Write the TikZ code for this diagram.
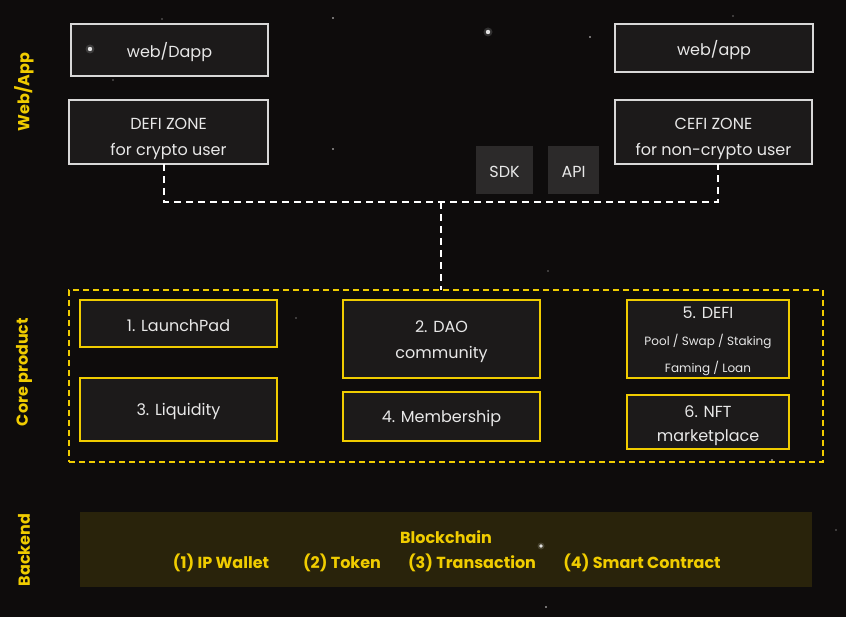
\documentclass[tikz,border=0pt]{standalone}
\usepackage{fontspec}
\setmainfont{Poppins}
\begin{document}
\begin{tikzpicture}[x=1pt,y=-1pt,
  every node/.style={inner sep=0pt,outer sep=0pt},
  whitebox/.style={draw=boxwhite,line width=1.3pt,fill=boxfill},
  yellowbox/.style={draw=ylw,line width=1.1pt,fill=boxfill},
  graybox/.style={fill=boxgray},
  txt/.style={text=txtwhite,font=\fontsize{16}{18}\selectfont,yshift=-2pt},
  smalltxt/.style={text=txtwhite,font=\fontsize{12}{14}\selectfont,yshift=-1pt},
  ytxt/.style={text=ylw,font=\bfseries\fontsize{16}{18}\selectfont},
  sidelbl/.style={text=ylw,font=\bfseries\fontsize{16}{18}\selectfont,rotate=90},
  dashline/.style={draw=white,line width=1.4pt,dash pattern=on 7pt off 5pt},
  star/.style={fill=white,opacity=0.85}
]
\definecolor{bg}{HTML}{0E0C0C}
\definecolor{boxfill}{HTML}{1C1A1A}
\definecolor{boxgray}{HTML}{2C2A2A}
\definecolor{boxwhite}{HTML}{D8D8D8}
\definecolor{txtwhite}{HTML}{E8E8E8}
\definecolor{ylw}{HTML}{F0CC00}
\definecolor{olive}{HTML}{29230B}
\fill[bg] (0,0) rectangle (846,617);
\useasboundingbox (0,0) rectangle (846,617);

% web/app layer
\node[whitebox,minimum width=197pt,minimum height=52pt] (dapp) at (169.5,50) {};
\node[txt] at (dapp.center) {web/Dapp};
\node[whitebox,minimum width=199pt,minimum height=64pt] (defi) at (168.5,132) {};
\node[txt] at (168.5,122) {DEFI ZONE};
\node[txt] at (168.5,149) {for crypto user};
\node[whitebox,minimum width=198pt,minimum height=48pt] (app) at (714,48) {};
\node[txt] at (app.center) {web/app};
\node[whitebox,minimum width=197pt,minimum height=64pt] (cefi) at (713.5,132) {};
\node[txt] at (713.5,122) {CEFI ZONE};
\node[txt] at (713.5,149) {for non-crypto user};
\node[graybox,minimum width=57pt,minimum height=48pt] (sdk) at (504.5,170) {};
\node[txt] at (sdk.center) {SDK};
\node[graybox,minimum width=51pt,minimum height=48pt] (api) at (573.5,170) {};
\node[txt] at (api.center) {API};

% connectors
\coordinate (jl) at (164,202);
\coordinate (jr) at (718,202);
\coordinate (jm) at (441,202);
\draw[dashline] (defi.south -| jl) -- (jl) -- (jr) -- (cefi.south -| jr);

% core product
\node[draw=ylw,line width=1.1pt,dash pattern=on 6pt off 4pt,minimum width=754pt,minimum height=172pt] (core) at (446,376) {};
\draw[dashline] (jm) -- (jm |- core.north);

\node[yellowbox,minimum width=197pt,minimum height=47pt] (lp) at (178.5,323.5) {};
\node[txt] at (lp.center) {1. LaunchPad};
\node[yellowbox,minimum width=197pt,minimum height=63pt] (liq) at (178.5,409.5) {};
\node[txt] at (liq.center) {3. Liquidity};
\node[yellowbox,minimum width=197pt,minimum height=78pt] (dao) at (441.5,339) {};
\node[txt] at (441.5,325) {2. DAO};
\node[txt] at (441.5,352) {community};
\node[yellowbox,minimum width=197pt,minimum height=49pt] (mem) at (441.5,416.5) {};
\node[txt] at (mem.center) {4. Membership};
\node[yellowbox,minimum width=162pt,minimum height=78pt] (dfp) at (708,339) {};
\node[txt] at (708,311) {5. DEFI};
\node[smalltxt] at (708,340) {Pool / Swap / Staking};
\node[smalltxt] at (708,367) {Faming / Loan};
\node[yellowbox,minimum width=162pt,minimum height=54pt] (nft) at (708,422) {};
\node[txt] at (708,410) {6. NFT};
\node[txt] at (708,436) {marketplace};

% backend
\node[fill=olive,minimum width=732pt,minimum height=75pt] (bc) at (446,549.5) {};
\node[ytxt] at (446,537) {Blockchain};
\node[ytxt] at (221,563) {(1) IP Wallet};
\node[ytxt] at (342,563) {(2) Token};
\node[ytxt] at (472,563) {(3) Transaction};
\node[ytxt] at (642,563) {(4) Smart Contract};

% side labels
\node[sidelbl] (l1) at (24,92) {Web/App};
\node[sidelbl] (l2) at (24,372) {Core product};
\node[sidelbl] (l3) at (24,550) {Backend};

% stars
\fill[white,opacity=0.15] (90,49) circle (4.5pt);
\fill[white,opacity=0.15] (488,32) circle (4.5pt);
\fill[white,opacity=0.15] (541,546) circle (3.5pt);
\fill[star] (90,49) circle (2.2pt);
\fill[star] (488,32) circle (2.2pt);
\fill[star] (541,546) circle (1.8pt);
\fill[star] (333,18) circle (0.8pt);
\fill[star] (162,19) circle (0.7pt);
\fill[star] (113,80) circle (0.7pt);
\fill[star] (733,16) circle (0.7pt);
\fill[star] (590,37) circle (0.8pt);
\fill[star] (333,149) circle (0.8pt);
\fill[star] (772,460) circle (0.8pt);
\fill[star] (546,607) circle (0.8pt);
\fill[star] (836,530) circle (0.7pt);
\fill[star] (296,318) circle (0.7pt);
\fill[star] (548,271) circle (0.7pt);
\end{tikzpicture}
\end{document}
